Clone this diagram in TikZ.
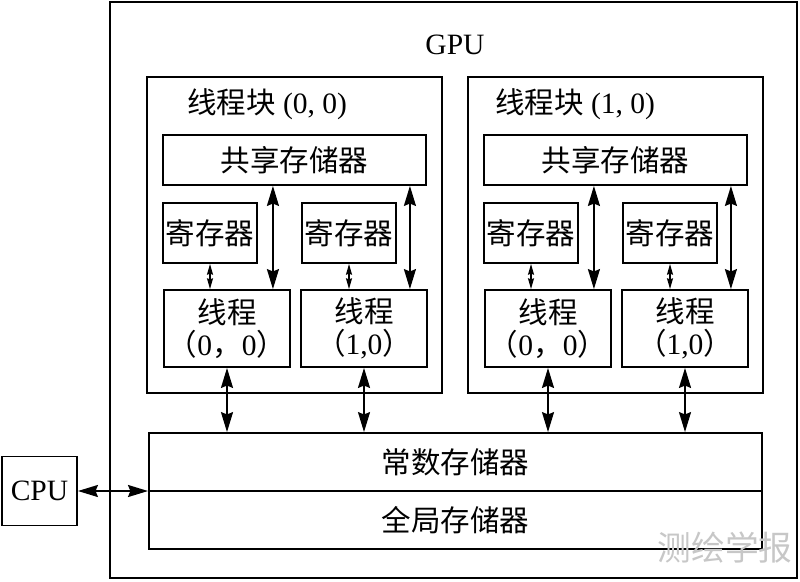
\documentclass[tikz,border=0pt]{standalone}
\usepackage{fontspec}
\setmainfont{Liberation Serif}
\newfontfamily\cjk{Noto Sans CJK SC}
\newcommand{\zh}[1]{{\cjk #1}}
\usetikzlibrary{arrows.meta, positioning, calc}

\begin{document}
\begin{tikzpicture}[x=0.025cm, y=-0.025cm,
  every node/.style={font=\fontsize{21}{23}\selectfont},
  box/.style={draw, line width=1.3pt, inner sep=0pt, align=center},
  blockbox/.style={box, minimum width=7.375cm, minimum height=7.9cm},
  shmem/.style={box, minimum width=6.575cm, minimum height=1.25cm},
  regbox/.style={box, minimum width=2.35cm, minimum height=1.5cm},
  thrbox/.style={box, minimum width=3.15cm, minimum height=1.925cm},
  membox/.style={box, minimum width=15.325cm, minimum height=1.45cm},
  dbl/.style={{Stealth[length=5mm,width=3mm,inset=0.6mm]}-{Stealth[length=5mm,width=3mm,inset=0.6mm]}, line width=1.3pt},
  tiny/.style={{Stealth[length=2.7mm,width=1.5mm,inset=0.3mm]}-{Stealth[length=2.7mm,width=1.5mm,inset=0.3mm]}, line width=0.9pt}
]
\useasboundingbox (0,0) rectangle (800,581);

% GPU frame
\node[box, minimum width=17.175cm, minimum height=14.4cm] (gpu) at (453.5,290) {};
\node (gpulbl) at (455,45) {GPU};

% thread block (0,0)
\node[blockbox] (blk1) at (294.5,235) {};
\node (lbl1) at (267,104) {\zh{线程块} (0, 0)};
\node[shmem]  (shm1)  at (294.5,160) {\zh{共享存储器}};
\node[regbox] (reg1a) at (210,233) {\zh{寄存器}};
\node[regbox] (reg1b) at (349,233) {\zh{寄存器}};
\node[thrbox] (thr1a) at (227,328.5) {\zh{线程}\\\zh{（}0\zh{，}0\zh{）}};
\node[thrbox] (thr1b) at (364,328.5) {\zh{线程}\\\zh{（}1,0\zh{）}};

% thread block (1,0)
\node[blockbox] (blk2) at (615.5,235) {};
\node (lbl2) at (575,104) {\zh{线程块} (1, 0)};
\node[shmem]  (shm2)  at (615.5,160) {\zh{共享存储器}};
\node[regbox] (reg2a) at (531,233) {\zh{寄存器}};
\node[regbox] (reg2b) at (670,233) {\zh{寄存器}};
\node[thrbox] (thr2a) at (548,328.5) {\zh{线程}\\\zh{（}0\zh{，}0\zh{）}};
\node[thrbox] (thr2b) at (685,328.5) {\zh{线程}\\\zh{（}1,0\zh{）}};

% device memory
\node[membox] (cmem) at (455.5,462) {\zh{常数存储器}};
\node[membox] (gmem) at (455.5,520) {\zh{全局存储器}};

\node[box, minimum width=1.875cm, minimum height=1.725cm] (cpu) at (39.5,491) {CPU};

\node[text=black!22, font=\cjk\fontsize{24}{24}\selectfont] (wm) at (725,548) {测绘学报};

% register <-> thread
\draw[tiny] (reg1a.south) -- (reg1a.south |- thr1a.north);
\draw[tiny] (reg1b.south) -- (reg1b.south |- thr1b.north);
\draw[tiny] (reg2a.south) -- (reg2a.south |- thr2a.north);
\draw[tiny] (reg2b.south) -- (reg2b.south |- thr2b.north);

% shared memory <-> thread
\draw[dbl] ([xshift=-0.45cm]thr1a.north east) -- ([xshift=-0.45cm]thr1a.north east |- shm1.south);
\draw[dbl] ([xshift=-0.45cm]thr1b.north east) -- ([xshift=-0.45cm]thr1b.north east |- shm1.south);
\draw[dbl] ([xshift=-0.45cm]thr2a.north east) -- ([xshift=-0.45cm]thr2a.north east |- shm2.south);
\draw[dbl] ([xshift=-0.45cm]thr2b.north east) -- ([xshift=-0.45cm]thr2b.north east |- shm2.south);

% thread <-> constant memory
\draw[dbl] (thr1a.south) -- (thr1a.south |- cmem.north);
\draw[dbl] (thr1b.south) -- (thr1b.south |- cmem.north);
\draw[dbl] (thr2a.south) -- (thr2a.south |- cmem.north);
\draw[dbl] (thr2b.south) -- (thr2b.south |- cmem.north);

% CPU <-> memory
\draw[dbl] (cpu.east) -- (cpu.east -| cmem.south west);
\end{tikzpicture}
\end{document}
